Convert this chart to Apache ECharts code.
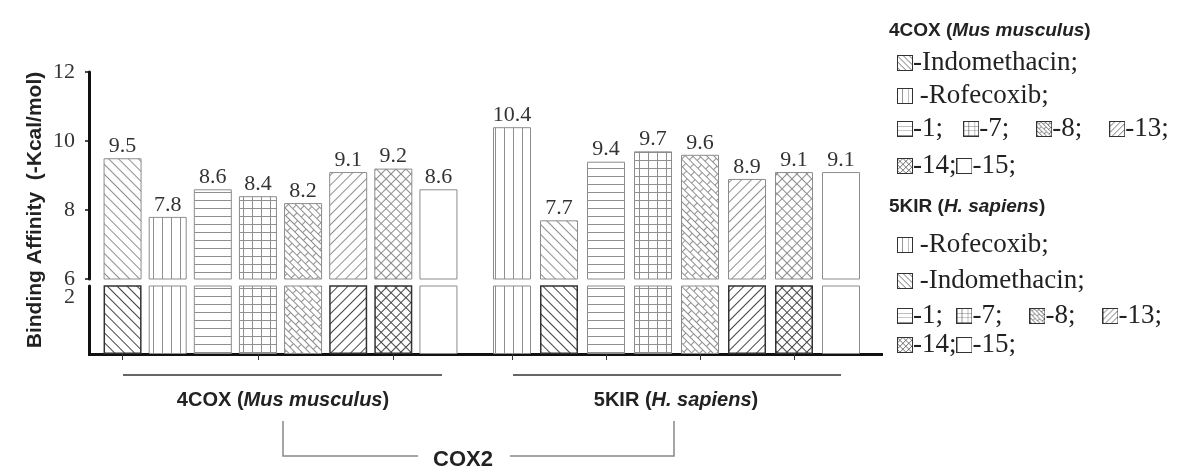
<!DOCTYPE html>
<html>
<head>
<meta charset="utf-8">
<script src="https://cdn.jsdelivr.net/npm/echarts@6/dist/echarts.min.js"></script>
<style>
  html, body { margin: 0; padding: 0; background: #fff; }
  #chart { width: 1178px; height: 467px; }
</style>
</head>
<body>
<div id="chart"></div>
<script>
// data
const mouseLigands = ['Indomethacin', 'Rofecoxib', '1', '7', '8', '13', '14', '15'];
const mouseAffinity = [9.5, 7.8, 8.6, 8.4, 8.2, 9.1, 9.2, 8.6];
const humanLigands = ['Rofecoxib', 'Indomethacin', '1', '7', '8', '13', '14', '15'];
const humanAffinity = [10.4, 7.7, 9.4, 9.7, 9.6, 8.9, 9.1, 9.1];
const upperTicks = [6, 8, 10, 12];
const lowerTicks = [0, 2];
const lowerTop = 2.4;

const LIGHT = '#8f8f8f';
const DARK = '#444';

// hatch tiles
function makeTile(w, h, draw, color) {
  const c = document.createElement('canvas');
  c.width = w; c.height = h;
  const g = c.getContext('2d');
  g.strokeStyle = color;
  g.lineWidth = 1;
  g.beginPath();
  draw(g, w, h);
  g.stroke();
  return c;
}
const hLine = (g, w) => { g.moveTo(0, 0.5); g.lineTo(w, 0.5); };
const vLine = (g, w, h) => { g.moveTo(0.5, 0); g.lineTo(0.5, h); };
const tileDraw = {
  diag: [4, 7, hLine],
  vert: [9, 4, vLine],
  horiz: [4, 8, hLine],
  grid: [9, 8, (g, w, h) => { hLine(g, w); vLine(g, w, h); }],
  brick: [12, 10, (g, w, h) => {
    g.moveTo(0, 0.5); g.lineTo(w, 0.5);
    g.moveTo(0, 5.5); g.lineTo(w, 5.5);
    g.moveTo(0.5, 0); g.lineTo(0.5, 5);
    g.moveTo(6.5, 5); g.lineTo(6.5, 10);
  }],
  cross: [7, 7, (g, w, h) => { hLine(g, w); vLine(g, w, h); }]
};
const ligandPattern = {
  Indomethacin: { tile: 'diag', rot: 45 },
  Rofecoxib: { tile: 'vert', rot: 0 },
  '1': { tile: 'horiz', rot: 0 },
  '7': { tile: 'grid', rot: 0 },
  '8': { tile: 'brick', rot: 45 },
  '13': { tile: 'diag', rot: -45 },
  '14': { tile: 'cross', rot: 45 },
  '15': { tile: null, rot: 0 }
};
const darkLower = ['Indomethacin', '13', '14'];

const tileCache = {};
function getTile(kind, color) {
  const key = kind + color;
  if (!tileCache[key]) {
    const t = tileDraw[kind];
    tileCache[key] = makeTile(t[0], t[1], t[2], color);
  }
  return tileCache[key];
}
function patternFill(name, color) {
  const p = ligandPattern[name];
  if (!p.tile) return 'rgba(255,255,255,0)';
  return { image: getTile(p.tile, color), repeat: 'repeat', rotation: p.rot * Math.PI / 180 };
}
function swatch(name) {
  const s = 16;
  const c = document.createElement('canvas');
  c.width = s; c.height = s;
  const g = c.getContext('2d');
  g.fillStyle = '#fff';
  g.fillRect(0, 0, s, s);
  const p = ligandPattern[name];
  if (p.tile) {
    const pat = g.createPattern(getTile(p.tile, '#555'), 'repeat');
    pat.setTransform(new DOMMatrix().rotate(p.rot).scale(0.6));
    g.fillStyle = pat;
    g.fillRect(0, 0, s, s);
  }
  g.strokeStyle = '#333';
  g.lineWidth = 1;
  g.strokeRect(0.5, 0.5, s - 1, s - 1);
  return c;
}

function barItems(ligands, values, lower) {
  return values.map((v, i) => {
    const name = ligands[i];
    const dark = lower && darkLower.includes(name);
    return {
      value: v,
      name: name,
      itemStyle: {
        color: patternFill(name, dark ? DARK : LIGHT),
        borderColor: dark ? '#333' : '#8c8c8c',
        borderWidth: dark ? 1.5 : 1
      }
    };
  });
}

function barSeries(idx, ligands, values, lower) {
  return {
    type: 'bar',
    xAxisIndex: idx,
    yAxisIndex: idx,
    data: barItems(ligands, values, lower),
    barWidth: 38,
    clip: true,
    silent: true,
    label: lower ? { show: false } : {
      show: true, position: 'top', distance: 1,
      fontFamily: 'Liberation Serif', fontSize: 22, color: '#333'
    }
  };
}

function xAxisFor(idx, ligands, lower) {
  return {
    type: 'category', gridIndex: idx, data: ligands,
    axisLine: { show: false },
    axisLabel: { show: false },
    splitLine: { show: false },
    axisTick: lower
      ? { show: true, alignWithLabel: true, length: 6, lineStyle: { color: '#333' } }
      : { show: false }
  };
}

const axisLabelStyle = { fontFamily: 'Liberation Serif', fontSize: 22, color: '#333', margin: 14 };
const yAxes = [
  {
    type: 'value', gridIndex: 0, min: upperTicks[0], max: upperTicks[upperTicks.length - 1], interval: 2,
    offset: 11,
    axisLine: { show: true, lineStyle: { color: '#111', width: 3 } },
    axisTick: { show: true, length: 4, lineStyle: { color: '#111', width: 1.5 } },
    axisLabel: axisLabelStyle,
    splitLine: { show: false }
  },
  { type: 'value', gridIndex: 1, min: upperTicks[0], max: upperTicks[upperTicks.length - 1], show: false, splitLine: { show: false } },
  {
    type: 'value', gridIndex: 2, min: lowerTicks[0], max: lowerTop, interval: 2,
    offset: 11,
    axisLine: { show: true, lineStyle: { color: '#111', width: 3 } },
    axisTick: { show: false },
    axisLabel: Object.assign({}, axisLabelStyle, {
      formatter: v => (lowerTicks.includes(v) && v !== 0 ? String(v) : '')
    }),
    splitLine: { show: false }
  },
  { type: 'value', gridIndex: 3, min: lowerTicks[0], max: lowerTop, show: false, splitLine: { show: false } }
];

const sw = {};
['Indomethacin', 'Rofecoxib', '1', '7', '8', '13', '14', '15'].forEach((n, i) => {
  sw['s' + i] = { backgroundColor: { image: swatch(n) }, width: 16, height: 16, verticalAlign: 'middle' };
});
const sansBold = { fontFamily: 'Liberation Sans', fontWeight: 'bold', fontSize: 19, fill: '#222' };

function legendRow(text, y) {
  return {
    type: 'text', x: 897, y: y,
    style: { text: text, fontFamily: 'Liberation Serif', fontSize: 27, fill: '#222', verticalAlign: 'middle', rich: sw }
  };
}
function header(text, x, y, size, align) {
  const rich = {
    b: Object.assign({}, sansBold, { fontSize: size }),
    i: Object.assign({}, sansBold, { fontSize: size, fontStyle: 'italic' })
  };
  return {
    type: 'text', x: x, y: y,
    style: { text: text, fontFamily: 'Liberation Sans', fontSize: size, fill: '#222', align: align, verticalAlign: 'middle', rich: rich }
  };
}

const graphic = [
  // y axis title
  {
    type: 'text', x: 35, y: 210, rotation: Math.PI / 2,
    style: { text: 'Binding Affinity  (-Kcal/mol)', font: 'bold 21px "Liberation Sans"', fill: '#222', align: 'center', verticalAlign: 'middle' }
  },
  // continuous x axis line
  { type: 'line', shape: { x1: 88, y1: 354.5, x2: 883, y2: 354.5 }, style: { stroke: '#111', lineWidth: 3 } },
  // group lines and labels
  { type: 'line', shape: { x1: 123, y1: 375, x2: 442, y2: 375 }, style: { stroke: '#333', lineWidth: 1.5 } },
  { type: 'line', shape: { x1: 513, y1: 375, x2: 841, y2: 375 }, style: { stroke: '#333', lineWidth: 1.5 } },
  header('{b|4COX (}{i|Mus musculus}{b|)}', 283, 400, 20, 'center'),
  header('{b|5KIR (}{i|H. sapiens}{b|)}', 676, 400, 20, 'center'),
  { type: 'polyline', shape: { points: [[283, 421], [283, 456], [418, 456]] }, style: { stroke: '#888', lineWidth: 1.5, fill: null } },
  { type: 'polyline', shape: { points: [[510, 456], [674, 456], [674, 421]] }, style: { stroke: '#888', lineWidth: 1.5, fill: null } },
  {
    type: 'text', x: 463, y: 449,
    style: { text: 'COX2', font: 'bold 22px "Liberation Sans"', fill: '#222', align: 'center', verticalAlign: 'top' }
  },
  // legend
  header('{b|4COX (}{i|Mus musculus}{b|)}', 889, 31, 19, 'left'),
  legendRow('{s0|}-Indomethacin;', 63),
  legendRow('{s1|} -Rofecoxib;', 96),
  legendRow('{s2|}-1;   {s3|}-7;    {s4|}-8;    {s5|}-13;', 129),
  legendRow('{s6|}-14;{s7|}-15;', 166),
  header('{b|5KIR (}{i|H. sapiens}{b|)}', 889, 207, 19, 'left'),
  legendRow('{s1|} -Rofecoxib;', 245),
  legendRow('{s0|} -Indomethacin;', 281),
  legendRow('{s2|}-1;  {s3|}-7;    {s4|}-8;    {s5|}-13;', 316),
  legendRow('{s6|}-14;{s7|}-15;', 345)
];

const chart = echarts.init(document.getElementById('chart'));
chart.setOption({
  backgroundColor: '#fff',
  animation: false,
  grid: [
    { left: 100, top: 72, width: 361, height: 207 },
    { left: 488.5, top: 72, width: 376, height: 207 },
    { left: 100, top: 286, width: 361, height: 68 },
    { left: 488.5, top: 286, width: 376, height: 68 }
  ],
  xAxis: [
    xAxisFor(0, mouseLigands, false),
    xAxisFor(1, humanLigands, false),
    xAxisFor(2, mouseLigands, true),
    xAxisFor(3, humanLigands, true)
  ],
  yAxis: yAxes,
  series: [
    barSeries(0, mouseLigands, mouseAffinity, false),
    barSeries(1, humanLigands, humanAffinity, false),
    barSeries(2, mouseLigands, mouseAffinity, true),
    barSeries(3, humanLigands, humanAffinity, true)
  ],
  graphic: graphic
});
</script>
</body>
</html>
